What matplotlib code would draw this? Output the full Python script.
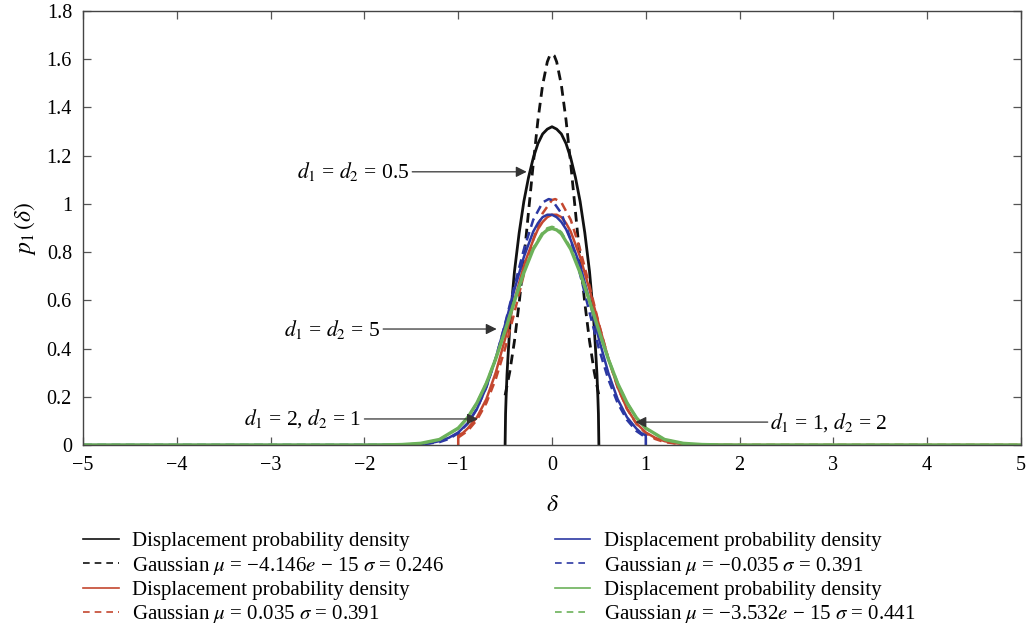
import matplotlib
matplotlib.use("Agg")
import matplotlib.pyplot as plt
from matplotlib.lines import Line2D
from matplotlib.ticker import FuncFormatter

plt.rcParams['font.family'] = ['Liberation Serif', 'DejaVu Serif']
plt.rcParams['mathtext.fontset'] = 'stix'

# d1 = d2 = 0.5
x_black = [-0.5, -0.495, -0.49, -0.48, -0.47, -0.45, -0.43, -0.4, -0.35, -0.3, -0.25, -0.2,
           -0.15, -0.1, -0.05, 0, 0.05, 0.1, 0.15, 0.2, 0.25, 0.3, 0.35, 0.4, 0.43, 0.45, 0.47,
           0.48, 0.49, 0.495, 0.5]
y_black = [0, 0.13, 0.19, 0.29, 0.36, 0.49, 0.59, 0.72, 0.88, 1.01, 1.11, 1.19,
           1.25, 1.29, 1.31, 1.32, 1.31, 1.29, 1.25, 1.19, 1.11, 1.01, 0.88, 0.72, 0.59, 0.49, 0.36,
           0.29, 0.19, 0.13, 0]
x_black_g = [-0.5, -0.45, -0.4, -0.35, -0.3, -0.25, -0.2, -0.15, -0.1, -0.05, -0.025, 0,
             0.025, 0.05, 0.1, 0.15, 0.2, 0.25, 0.3, 0.35, 0.4, 0.45, 0.5]
y_black_g = [0.206, 0.304, 0.432, 0.589, 0.771, 0.968, 1.165, 1.347, 1.493, 1.589, 1.614, 1.622,
             1.614, 1.589, 1.493, 1.347, 1.165, 0.968, 0.771, 0.589, 0.432, 0.304, 0.206]

# d1 = 2, d2 = 1
x_red = [-1, -1, -0.95, -0.9, -0.8, -0.7, -0.6, -0.5, -0.4, -0.3, -0.2, -0.15, -0.1, -0.05,
         0, 0.05, 0.1, 0.15, 0.2, 0.3, 0.4, 0.5, 0.6, 0.7, 0.8, 0.9, 1.0, 1.1, 1.2, 1.3, 1.4,
         1.6, 2.0, 5]
y_red = [0, 0.04, 0.05, 0.068, 0.115, 0.19, 0.30, 0.44, 0.60, 0.745, 0.85, 0.895, 0.925, 0.945,
         0.955, 0.955, 0.945, 0.92, 0.885, 0.78, 0.645, 0.50, 0.36, 0.24, 0.15, 0.09, 0.052, 0.03,
         0.016, 0.008, 0.004, 0.001, 0, 0]
x_red_g = [-1, -0.9, -0.8, -0.7, -0.6, -0.5, -0.4, -0.3, -0.2, -0.1, 0, 0.035, 0.1, 0.2, 0.3,
           0.4, 0.5, 0.6, 0.7, 0.8, 0.9, 1.0, 1.1, 1.2, 1.4, 1.6, 2.0, 5]
y_red_g = [0.031, 0.058, 0.104, 0.174, 0.273, 0.400, 0.550, 0.707, 0.852, 0.961, 1.016, 1.020,
           1.006, 0.934, 0.811, 0.660, 0.503, 0.359, 0.240, 0.150, 0.088, 0.049, 0.025, 0.012,
           0.002, 0, 0, 0]

# d1 = 1, d2 = 2
x_blue = [-5, -2.0, -1.6, -1.4, -1.3, -1.2, -1.1, -1.0, -0.9, -0.8, -0.7, -0.6, -0.5, -0.4, -0.3,
          -0.2, -0.15, -0.1, -0.05, 0, 0.05, 0.1, 0.15, 0.2, 0.3, 0.4, 0.5, 0.6, 0.7, 0.8, 0.9,
          0.95, 1, 1]
y_blue = [0, 0, 0.001, 0.004, 0.008, 0.016, 0.03, 0.052, 0.09, 0.15, 0.24, 0.36, 0.50, 0.645, 0.78,
          0.885, 0.92, 0.945, 0.955, 0.955, 0.945, 0.925, 0.895, 0.85, 0.745, 0.60, 0.44, 0.30,
          0.19, 0.115, 0.068, 0.05, 0.04, 0]
x_blue_g = [-5, -2.0, -1.6, -1.4, -1.2, -1.1, -1.0, -0.9, -0.8, -0.7, -0.6, -0.5, -0.4, -0.3, -0.2,
            -0.1, -0.035, 0, 0.1, 0.2, 0.3, 0.4, 0.5, 0.6, 0.7, 0.8, 0.9, 1]
y_blue_g = [0, 0, 0, 0.002, 0.012, 0.025, 0.049, 0.088, 0.150, 0.240, 0.359, 0.503, 0.660, 0.811,
            0.934, 1.006, 1.020, 1.016, 0.961, 0.852, 0.707, 0.550, 0.400, 0.273, 0.174, 0.104,
            0.058, 0.031]

# d1 = d2 = 5
x_green = [-5, -2.0, -1.8, -1.6, -1.4, -1.2, -1.0, -0.9, -0.8, -0.7, -0.6, -0.5, -0.4, -0.3, -0.2,
           -0.1, -0.05, 0, 0.05, 0.1, 0.2, 0.3, 0.4, 0.5, 0.6, 0.7, 0.8, 0.9, 1.0, 1.2, 1.4, 1.6,
           1.8, 2.0, 5]
y_green = [0, 0, 0.0005, 0.002, 0.007, 0.023, 0.07, 0.113, 0.175, 0.256, 0.357, 0.474, 0.597,
           0.714, 0.812, 0.876, 0.892, 0.898, 0.892, 0.876, 0.812, 0.714, 0.597, 0.474, 0.357,
           0.256, 0.175, 0.113, 0.07, 0.023, 0.007, 0.002, 0.0005, 0, 0]
y_green_g = [0, 0, 0.0002, 0.001, 0.006, 0.022, 0.069, 0.113, 0.175, 0.257, 0.359, 0.476, 0.600,
             0.718, 0.816, 0.882, 0.899, 0.905, 0.899, 0.882, 0.816, 0.718, 0.600, 0.476, 0.359,
             0.257, 0.175, 0.113, 0.069, 0.022, 0.006, 0.001, 0.0002, 0, 0]

labels = ['Displacement probability density',
          r'Gaussian $\mu$ = −4.146$e$ − 15 $\sigma$ = 0.246',
          'Displacement probability density',
          r'Gaussian $\mu$ = 0.035 $\sigma$ = 0.391',
          'Displacement probability density',
          r'Gaussian $\mu$ = −0.035 $\sigma$ = 0.391',
          'Displacement probability density',
          r'Gaussian $\mu$ = −3.532$e$ − 15 $\sigma$ = 0.441']

c_black = '#111111'
c_red = '#c4472f'
c_blue = '#2c38a3'
c_green = '#6cb25a'
dash = (0, (3.5, 2.2))

fig = plt.figure(figsize=(10.26, 6.39), dpi=100)
ax = fig.add_axes([0.081, 0.3036, 0.914, 0.6792])

ax.plot(x_black, y_black, color=c_black, lw=2.0)
ax.plot(x_black_g, y_black_g, color=c_black, lw=2.0, ls=dash)
ax.plot(x_red, y_red, color=c_red, lw=1.8)
ax.plot(x_red_g, y_red_g, color=c_red, lw=1.8, ls=dash)
ax.plot(x_blue, y_blue, color=c_blue, lw=1.8)
ax.plot(x_blue_g, y_blue_g, color=c_blue, lw=1.8, ls=dash)
ax.plot(x_green, y_green, color=c_green, lw=2.4)
ax.plot(x_green, y_green_g, color=c_green, lw=1.8, ls=dash)

ax.set_xlim(-5, 5)
ax.set_ylim(0, 1.8)
ax.set_xticks(range(-5, 6))
ax.set_yticks([0, 0.2, 0.4, 0.6, 0.8, 1, 1.2, 1.4, 1.6, 1.8])
ax.xaxis.set_major_formatter(FuncFormatter(lambda v, p: ('%g' % v).replace('-', '−')))
ax.yaxis.set_major_formatter(FuncFormatter(lambda v, p: '%g' % v))
ax.tick_params(direction='in', length=6, width=0.9, color='#555555', top=True, right=True,
               labelsize=14.5, pad=8)
for s in ax.spines.values():
    s.set_color('#444444')
    s.set_linewidth(1.0)

ax.set_xlabel(r'$\delta$', fontsize=17, labelpad=14)
ax.set_ylabel(r'$p_1\,(\delta)$', fontsize=17, labelpad=6)

arrow = dict(arrowstyle='-|>', color='#333333', lw=0.9, mutation_scale=16, shrinkA=0, shrinkB=0)
ax.annotate(r'$d_1$ = $d_2$ = 0.5', xy=(-0.27, 1.133), xytext=(-1.52, 1.133),
            ha='right', va='center', fontsize=15.5, arrowprops=arrow)
ax.annotate(r'$d_1$ = $d_2$ = 5', xy=(-0.59, 0.481), xytext=(-1.83, 0.481),
            ha='right', va='center', fontsize=15.5, arrowprops=arrow)
ax.annotate(r'$d_1$ = 2, $d_2$ = 1', xy=(-0.79, 0.108), xytext=(-2.03, 0.108),
            ha='right', va='center', fontsize=15.5, arrowprops=arrow)
ax.annotate(r'$d_1$ = 1, $d_2$ = 2', xy=(0.89, 0.095), xytext=(2.33, 0.095),
            ha='left', va='center', fontsize=15.5, arrowprops=arrow)

styles = [(c_black, '-'), (c_black, (0, (4, 3))), (c_red, '-'), (c_red, (0, (4, 3))),
          (c_blue, '-'), (c_blue, (0, (4, 3))), (c_green, '-'), (c_green, (0, (4, 3)))]
handles = [Line2D([], [], color=c, ls=s, lw=1.2) for c, s in styles]
fig.legend(handles, labels, loc='upper left', bbox_to_anchor=(0.081, 0.168), ncol=2,
           frameon=False, fontsize=15, handlelength=1.7, handletextpad=0.65,
           columnspacing=5.3, labelspacing=0.17, borderaxespad=0, borderpad=0)

fig.savefig('out.png', dpi=100)
